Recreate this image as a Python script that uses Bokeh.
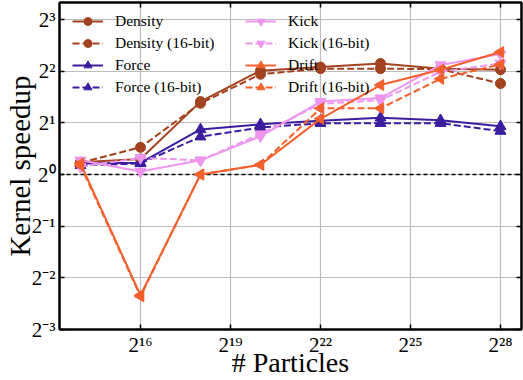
import math
from bokeh.plotting import figure
from bokeh.models import (FixedTicker, LogAxis, CustomJSTickFormatter, Span, Legend,
                          LegendItem, ColumnDataSource, Range1d)
from bokeh.embed import file_html
from bokeh.resources import INLINE

# ---- data ----
particles = [16384, 65536, 262144, 1048576, 4194304, 16777216, 67108864, 268435456]

density = [1.18, 1.23, 2.66, 4.03, 4.23, 4.44, 4.14, 4.08]
density_16 = [1.17, 1.44, 2.60, 3.84, 4.14, 4.14, 4.11, 3.39]
force = [1.16, 1.17, 1.83, 1.96, 2.06, 2.14, 2.07, 1.91]
force_16 = [1.13, 1.16, 1.66, 1.88, 1.99, 1.99, 1.99, 1.79]
kick = [1.21, 1.04, 1.21, 1.67, 2.66, 2.79, 4.35, 5.03]
kick_16 = [1.11, 1.25, 1.21, 1.72, 2.58, 2.71, 3.97, 4.44]
drift = [1.16, 0.198, 1.0, 1.14, 2.11, 3.32, 4.08, 5.17]
drift_16 = [1.13, 0.195, 1.0, 1.14, 2.43, 2.43, 3.61, 4.38]

x_ticks = [65536, 524288, 4194304, 33554432, 268435456]
y_ticks = [0.125, 0.25, 0.5, 1, 2, 4, 8]

FONT = "Liberation Serif"
C_DENSITY = "#a3421f"
C_FORCE = "#3b1d9e"
C_KICK = "#ee96ee"
C_DRIFT = "#f2602e"

p = figure(width=523, height=380, x_axis_type="log", y_axis_type="log",
           output_backend="svg", toolbar_location=None,
           min_border_left=59, min_border_right=2, min_border_top=2, min_border_bottom=50)
p.x_range = Range1d(2 ** 13.3, 2 ** 28.7)
p.y_range = Range1d(2 ** -3, 2 ** 3.33)

fmt_js = """
const sup = {"0":"\\u2070","1":"\\u00b9","2":"\\u00b2","3":"\\u00b3","4":"\\u2074",
             "5":"\\u2075","6":"\\u2076","7":"\\u2077","8":"\\u2078","9":"\\u2079","-":"\\u207b"};
const e = Math.round(Math.log2(tick));
return "2" + String(e).split("").map(c => sup[c]).join("");
"""
p.xaxis.ticker = FixedTicker(ticks=x_ticks)
p.yaxis.ticker = FixedTicker(ticks=y_ticks)
p.xaxis.formatter = CustomJSTickFormatter(code=fmt_js)
p.yaxis.formatter = CustomJSTickFormatter(code=fmt_js)

for ax in (p.xaxis[0], p.yaxis[0]):
    ax.major_label_text_font = FONT
    ax.major_label_text_font_size = "21px"
    ax.major_label_text_color = "black"
    ax.axis_label_text_font = FONT
    ax.axis_label_text_font_style = "normal"
    ax.axis_label_text_color = "black"
    ax.major_tick_in = 5
    ax.major_tick_out = 0
    ax.major_tick_line_width = 1.5
    ax.minor_tick_line_color = None
    ax.axis_line_width = 2
p.xaxis.axis_label = "# Particles"
p.yaxis.axis_label = "Kernel speedup"
p.xaxis.axis_label_text_font_size = "28px"
p.yaxis.axis_label_text_font_size = "29px"
p.xaxis.major_label_standoff = 3
p.yaxis.major_label_standoff = 4
p.xaxis.axis_label_standoff = -13
p.yaxis.axis_label_standoff = -7

blank = CustomJSTickFormatter(code='return "";')
top_ax = LogAxis(ticker=FixedTicker(ticks=x_ticks), formatter=blank,
                 major_label_text_font_size="1px",
                 major_label_standoff=0, major_tick_in=5, major_tick_out=0,
                 major_tick_line_width=1.5, minor_tick_line_color=None, axis_line_width=2)
right_ax = LogAxis(ticker=FixedTicker(ticks=y_ticks), formatter=blank,
                   major_label_text_font_size="1px",
                   major_label_standoff=0, major_tick_in=5, major_tick_out=0,
                   major_tick_line_width=1.5, minor_tick_line_color=None, axis_line_width=2)
p.add_layout(top_ax, "above")
p.add_layout(right_ax, "right")

p.outline_line_color = "black"
p.outline_line_width = 2
p.grid.grid_line_color = "#bdbdbd"
p.grid.grid_line_width = 1.2

p.add_layout(Span(location=1, dimension="width", line_color="black",
                  line_dash="4 3", line_width=1.5, level="underlay"))


def series(y, color, dash, marker, angle, size, label):
    src = ColumnDataSource(dict(x=particles, y=y))
    r1 = p.line("x", "y", source=src, line_color=color, line_width=2, line_dash=dash)
    r2 = p.scatter("x", "y", source=src, marker=marker, size=size, angle=angle,
                   angle_units="rad", fill_color=color, line_color=color)
    return LegendItem(label=label, renderers=[r1, r2])


items1 = [
    series(density, C_DENSITY, "solid", "circle", 0, 10, "Density"),
    series(density_16, C_DENSITY, "7 3", "circle", 0, 10, "Density (16-bit)"),
    series(force, C_FORCE, "solid", "triangle", 0, 11, "Force"),
    series(force_16, C_FORCE, "7 3", "triangle", 0, 11, "Force (16-bit)"),
]
items2 = [
    series(kick, C_KICK, "solid", "inverted_triangle", 0, 11, "Kick"),
    series(kick_16, C_KICK, "7 3", "inverted_triangle", 0, 11, "Kick (16-bit)"),
    series(drift, C_DRIFT, "solid", "triangle", math.pi / 2, 11, "Drift"),
    series(drift_16, C_DRIFT, "7 3", "triangle", math.pi / 2, 11, "Drift (16-bit)"),
]


def make_legend(items, loc):
    lg = Legend(items=items, location=loc, margin=0, padding=4, spacing=2,
                glyph_width=31, glyph_height=20, label_height=20, label_standoff=12,
                label_text_font=FONT, label_text_font_size="15.5px", label_text_color="black",
                background_fill_alpha=0, border_line_alpha=0)
    p.add_layout(lg, "center")
    return lg


make_legend(items1, (9, 228))
make_legend(items2, (182, 228))

open("out.html", "w").write(file_html(p, INLINE))
